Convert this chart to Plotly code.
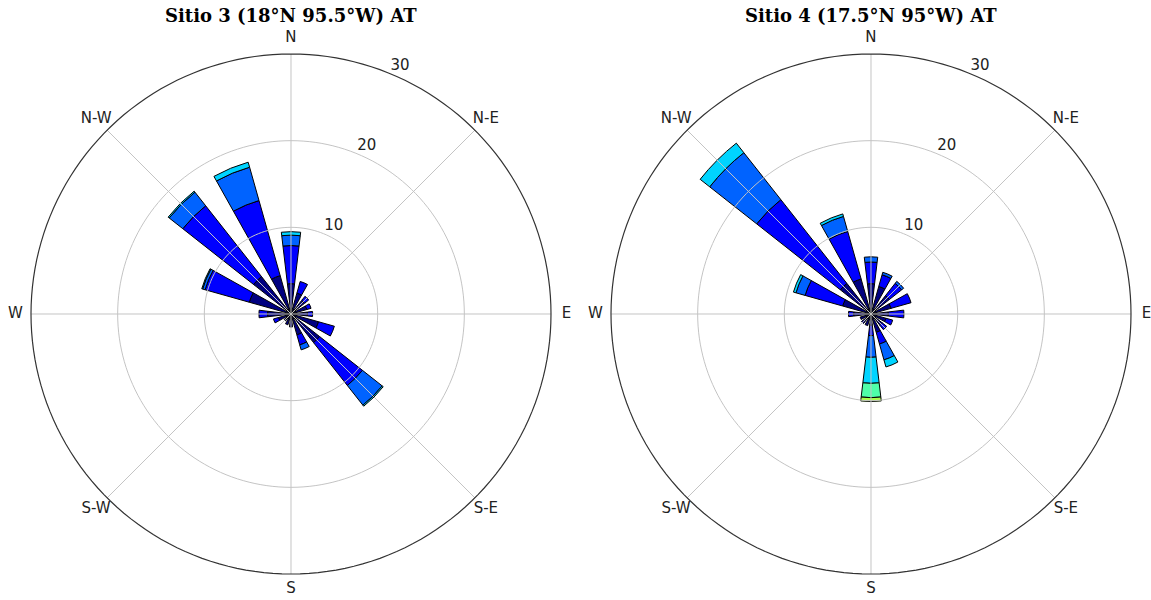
import plotly.graph_objects as go

directions = ["N", "NNE", "NE", "ENE", "E", "ESE", "SE", "SSE",
              "S", "SSW", "SW", "WSW", "W", "WNW", "NW", "NNW"]
angles = [i * 22.5 for i in range(16)]

bin_colors = ["#000080", "#0000FF", "#0063FF", "#00D4FF", "#4EFFA9", "#A9FF4D"]

# Site 3 — frequency per speed bin (segment lengths, %), per direction
s3_bin0 = [3.5, 2.5, 2.0, 1.9, 1.9, 3.3, 4.2, 2.5, 1.5, 1.3, 1.0, 1.5, 2.7, 5.0, 5.5, 4.6]
s3_bin1 = [4.4, 1.4, 0.6, 0.5, 0.6, 1.9, 6.3, 1.2, None, None, None, 0.6, 1.0, 5.3, 10.4, 9.0]
s3_bin2 = [1.2, None, None, None, None, None, 2.9, 0.6, None, None, None, None, None, 0.3, 2.0, 4.0]
s3_bin3 = [0.4, None, None, None, None, None, 0.15, None, None, None, None, None, None, 0.1, 0.15, 0.6]
s3_bin4 = [None] * 16
s3_bin5 = [None] * 16

# Site 4
s4_bin0 = [3.5, 3.3, 2.7, 2.4, 2.0, 1.8, 1.6, 2.2, 1.3, 1.4, 1.4, 1.3, 2.0, 3.4, 4.5, 4.2]
s4_bin1 = [2.5, 1.4, 1.8, 2.4, 1.8, 0.8, 0.7, 1.4, 1.2, None, None, None, 0.6, 4.5, 12.3, 5.7]
s4_bin2 = [0.6, 0.3, 0.3, None, None, None, None, 1.9, 2.5, None, None, None, None, 1.1, 6.9, 1.8]
s4_bin3 = [None, None, None, None, None, None, None, 0.85, 3.0, None, None, None, None, 0.3, 1.4, 0.3]
s4_bin4 = [None, None, None, None, None, None, None, None, 1.65, None, None, None, None, None, None, None]
s4_bin5 = [None, None, None, None, None, None, None, None, 0.45, None, None, None, None, None, None, None]

titles = ["Sitio 3 (18°N 95.5°W) AT", "Sitio 4 (17.5°N 95°W) AT"]
compass_vals = [0, 45, 90, 135, 180, 225, 270, 315]
compass_text = ["N", "N-E", "E", "S-E", "S", "S-W", "W", "N-W"]
compass_label_r = 31.8
radial_ticks = [10, 20, 30]
radial_label_angle = 22.5
r_max = 30
r_view = 32.0  # plotting area extends a bit past the rim so the compass labels fit

sites = [
    ("polar", [s3_bin0, s3_bin1, s3_bin2, s3_bin3, s3_bin4, s3_bin5]),
    ("polar2", [s4_bin0, s4_bin1, s4_bin2, s4_bin3, s4_bin4, s4_bin5]),
]

circle_theta = list(range(0, 361, 2))
grid_color = "#c4c4c4"

fig = go.Figure()
font_ticks = dict(family="DejaVu Sans", size=15, color="#222222")
for subplot, bins in sites:
    for k, vals in enumerate(bins):
        fig.add_trace(go.Barpolar(
            r=vals, theta=angles, width=13.5, subplot=subplot,
            marker=dict(color=bin_colors[k], line=dict(color="black", width=1)),
            showlegend=False, hoverinfo="skip",
        ))
    # grid drawn over the bars (as in the reference)
    for a in compass_vals:
        fig.add_trace(go.Scatterpolar(
            r=[0, r_max], theta=[a, a], mode="lines",
            line=dict(color=grid_color, width=1), subplot=subplot,
            showlegend=False, hoverinfo="skip",
        ))
    for rv in radial_ticks[:-1]:
        fig.add_trace(go.Scatterpolar(
            r=[rv] * len(circle_theta), theta=circle_theta, mode="lines",
            line=dict(color=grid_color, width=1), subplot=subplot,
            showlegend=False, hoverinfo="skip",
        ))
    # outer rim
    fig.add_trace(go.Scatterpolar(
        r=[r_max] * len(circle_theta), theta=circle_theta, mode="lines",
        line=dict(color="#333333", width=1.2), subplot=subplot,
        showlegend=False, hoverinfo="skip",
    ))
    # radial tick labels, placed like matplotlib's (left/bottom anchored at ring)
    fig.add_trace(go.Scatterpolar(
        r=radial_ticks, theta=[radial_label_angle] * len(radial_ticks),
        text=[str(v) for v in radial_ticks], mode="text",
        textposition="top right", textfont=font_ticks,
        subplot=subplot, showlegend=False, hoverinfo="skip", cliponaxis=False,
    ))
    # compass labels centred just outside the rim
    fig.add_trace(go.Scatterpolar(
        r=[compass_label_r] * len(compass_vals), theta=compass_vals,
        text=compass_text, mode="text",
        textposition="middle center", textfont=font_ticks,
        subplot=subplot, showlegend=False, hoverinfo="skip", cliponaxis=False,
    ))

W, H = 1151, 600
R = 260 * r_view / r_max
centers = [(291, 314), (871, 314)]


def polar_layout(cx, cy):
    return dict(
        domain=dict(x=[(cx - R) / W, (cx + R) / W], y=[(H - cy - R) / H, (H - cy + R) / H]),
        bgcolor="rgba(0,0,0,0)",
        barmode="stack",
        angularaxis=dict(
            rotation=90, direction="clockwise",
            showticklabels=False, showgrid=False, showline=False, ticks="",
        ),
        radialaxis=dict(
            range=[0, r_view], showticklabels=False,
            showgrid=False, showline=False, ticks="",
        ),
    )


annotations = []
for (cx, cy), t in zip(centers, titles):
    annotations.append(dict(
        text="<b>" + t + "</b>", x=cx / W, y=1 - 16 / H, xref="paper", yref="paper",
        showarrow=False, xanchor="center", yanchor="middle",
        font=dict(family="DejaVu Serif", size=18, color="black"),
    ))

fig.update_layout(
    width=W, height=H, margin=dict(l=0, r=0, t=0, b=0),
    paper_bgcolor="white", plot_bgcolor="white",
    polar=polar_layout(*centers[0]),
    polar2=polar_layout(*centers[1]),
    annotations=annotations, showlegend=False,
)

fig.write_html(
    "out.html",
    config={"displayModeBar": False},
    post_script="document.body.style.margin='0';document.body.style.overflow='hidden';",
)
